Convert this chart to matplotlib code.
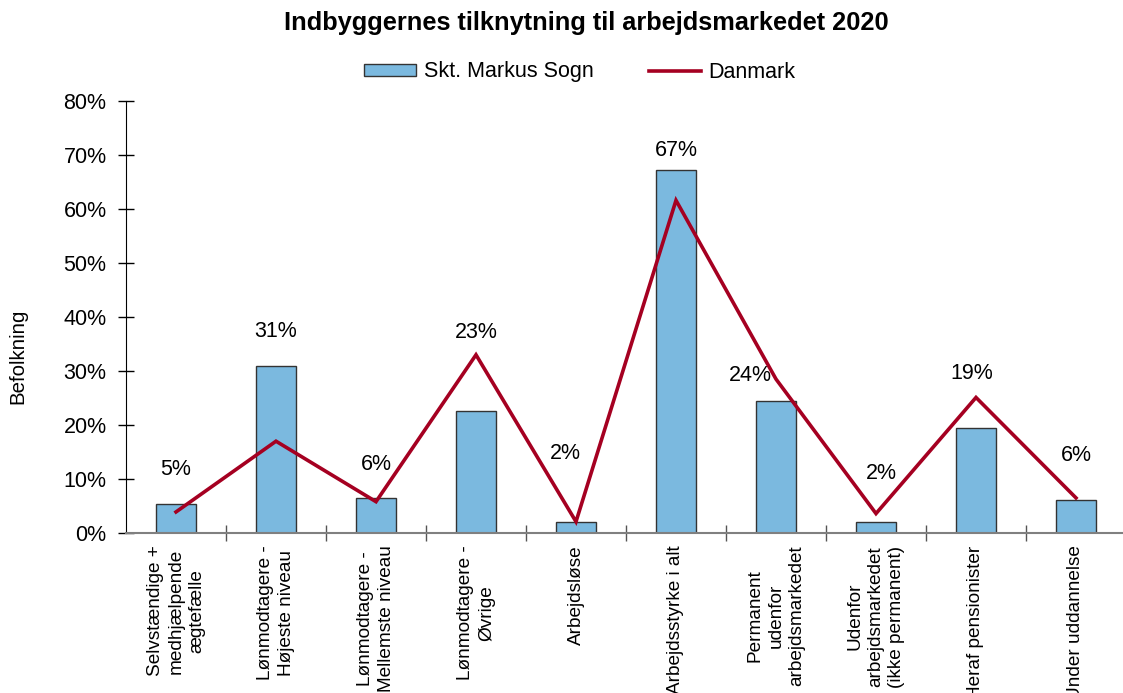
import numpy as np
import matplotlib
matplotlib.use("Agg")
import matplotlib.pyplot as plt
from matplotlib.ticker import MultipleLocator, FixedLocator, PercentFormatter

# ---------------- DATA ---------------- #

categories = [
    "Selvstændige +\nmedhjælpende\nægtefælle",
    "Lønmodtagere -\nHøjeste niveau",
    "Lønmodtagere -\nMellemste niveau",
    "Lønmodtagere -\nØvrige",
    "Arbejdsløse",
    "Arbejdsstyrke i alt",
    "Permanent\nudenfor\narbejdsmarkedet",
    "Udenfor\narbejdsmarkedet\n(ikke permanent)",
    "Heraf pensionister",
    "Under uddannelse",
]

# Skt. Markus Sogn (bars), percent
sogn = [5.4, 31.0, 6.4, 22.6, 2.0, 67.2, 24.5, 2.0, 19.4, 6.1]
# Danmark (line), percent
danmark = [3.9, 17.0, 5.8, 33.0, 2.1, 61.6, 28.5, 3.6, 25.1, 6.5]

# data label placement (height in % and horizontal nudge in category units)
label_y = [11.7, 37.4, 12.6, 37.2, 14.8, 70.9, 29.1, 11.1, 29.6, 14.3]
label_dx = [0, 0, 0, 0, -0.11, 0, -0.26, 0.05, -0.04, 0]

# ---------------- PLOT ---------------- #

plt.rcParams['font.family'] = ['Liberation Sans', 'DejaVu Sans']

fig = plt.figure(figsize=(11.23, 6.93), dpi=100)
ax = fig.add_axes([126 / 1123, 160 / 693, 1000 / 1123, 432 / 693])

x = np.arange(len(categories))
bar_color = "#7BB9DF"
line_color = "#A50021"

bars = ax.bar(x, sogn, width=0.4, color=bar_color, edgecolor="#333333",
              linewidth=1.0, label="Skt. Markus Sogn", zorder=2)
line, = ax.plot(x, danmark, color=line_color, linewidth=2.6, label="Danmark",
                zorder=3, solid_joinstyle="miter")

for i, v in enumerate(sogn):
    ax.text(x[i] + label_dx[i], label_y[i], f"{v:.0f}%", ha="center",
            va="center", fontsize=15.5)

ax.set_xlim(-0.5, len(categories) - 0.5)
ax.set_ylim(0, 80)
ax.yaxis.set_major_locator(MultipleLocator(10))
ax.yaxis.set_major_formatter(PercentFormatter(decimals=0))
ax.tick_params(axis="y", direction="inout", length=12, width=1,
               labelsize=15.5, pad=8)

ax.set_xticks(x)
ax.set_xticklabels(categories, rotation=90, fontsize=13.7, linespacing=1.3,
                   multialignment="center", va="top", ha="center")
ax.tick_params(axis="x", which="major", length=0, pad=9)
ax.xaxis.set_minor_locator(FixedLocator(np.arange(0.5, len(categories) - 0.5, 1)))
ax.tick_params(axis="x", which="minor", direction="inout", length=11,
               width=1, color="#555555")

for s in ["top", "right"]:
    ax.spines[s].set_visible(False)
ax.spines["left"].set_color("black")
ax.spines["bottom"].set_color("#808080")
ax.spines["bottom"].set_linewidth(1.5)

ax.set_ylabel("Befolkning", fontsize=14.8)
ax.yaxis.set_label_coords(-99 / 1000, 0.41)

fig.suptitle("Indbyggernes tilknytning til arbejdsmarkedet 2020",
             fontsize=18.3, fontweight="bold", x=586 / 1123, y=1 - 23 / 693,
             va="center")

fig.legend([bars, line], ["Skt. Markus Sogn", "Danmark"], loc="center",
           bbox_to_anchor=(580 / 1123, 1 - 72 / 693), ncol=2,
           frameon=False, fontsize=15.5, handlelength=2.4, handleheight=0.45,
           handletextpad=0.35, columnspacing=2.6)

fig.savefig("out.png", dpi=100)
